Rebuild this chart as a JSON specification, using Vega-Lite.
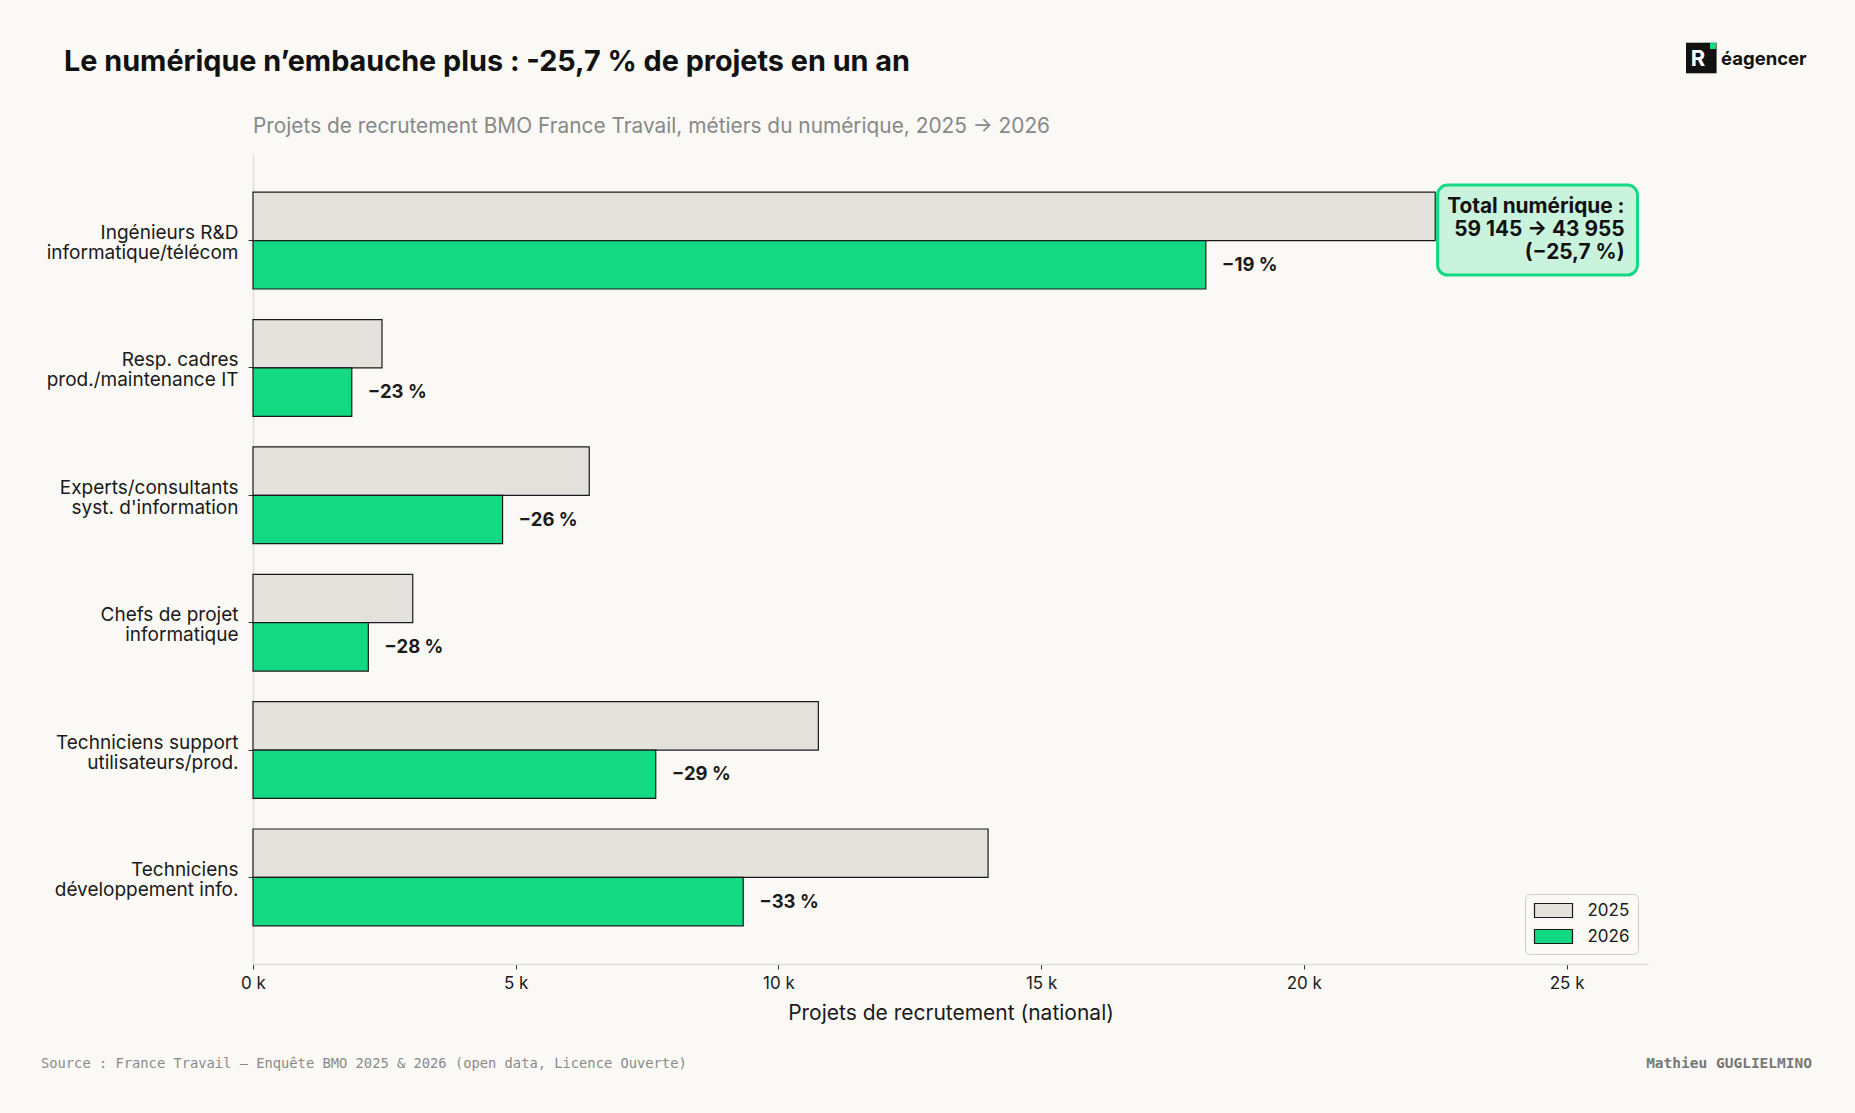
{
  "$schema": "https://vega.github.io/schema/vega-lite/v6.json",
  "width": 1395,
  "height": 810,
  "autosize": {"type": "none"},
  "padding": {"left": 253, "top": 154, "right": 207, "bottom": 149},
  "background": "#faf9f5",
  "config": {
    "view": {"stroke": null},
    "font": "Inter",
    "text": {"font": "Inter", "color": "#1a1a1a"}
  },
  "datasets": {
    "metiers": [
      {"metier": "Ingénieurs R&D|informatique/télécom", "annee": "2025", "valeur": 22500},
      {"metier": "Ingénieurs R&D|informatique/télécom", "annee": "2026", "valeur": 18135, "evolution": "−19 %"},
      {"metier": "Resp. cadres|prod./maintenance IT", "annee": "2025", "valeur": 2455},
      {"metier": "Resp. cadres|prod./maintenance IT", "annee": "2026", "valeur": 1880, "evolution": "−23 %"},
      {"metier": "Experts/consultants|syst. d'information", "annee": "2025", "valeur": 6400},
      {"metier": "Experts/consultants|syst. d'information", "annee": "2026", "valeur": 4750, "evolution": "−26 %"},
      {"metier": "Chefs de projet|informatique", "annee": "2025", "valeur": 3040},
      {"metier": "Chefs de projet|informatique", "annee": "2026", "valeur": 2195, "evolution": "−28 %"},
      {"metier": "Techniciens support|utilisateurs/prod.", "annee": "2025", "valeur": 10760},
      {"metier": "Techniciens support|utilisateurs/prod.", "annee": "2026", "valeur": 7665, "evolution": "−29 %"},
      {"metier": "Techniciens|développement info.", "annee": "2025", "valeur": 13990},
      {"metier": "Techniciens|développement info.", "annee": "2026", "valeur": 9330, "evolution": "−33 %"}
    ]
  },
  "layer": [
    {
      "data": {"name": "metiers"},
      "mark": {"type": "bar", "stroke": "#1a1a1a", "strokeWidth": 1.2},
      "encoding": {
        "y": {
          "field": "metier",
          "type": "nominal",
          "scale": {
            "domain": [
              "Ingénieurs R&D|informatique/télécom",
              "Resp. cadres|prod./maintenance IT",
              "Experts/consultants|syst. d'information",
              "Chefs de projet|informatique",
              "Techniciens support|utilisateurs/prod.",
              "Techniciens|développement info."
            ],
            "paddingInner": 0.24,
            "paddingOuter": 0.3
          },
          "axis": {
            "title": null,
            "labelExpr": "split(datum.value, '|')",
            "labelFontSize": 19,
            "labelColor": "#1a1a1a",
            "labelLineHeight": 20,
            "labelOffset": -7.5,
            "labelPadding": 10,
            "labelLimit": 0,
            "tickSize": 5,
            "tickColor": "#333333",
            "domainColor": "#dddddd",
            "domainWidth": 1.5,
            "grid": false
          }
        },
        "x": {
          "field": "valeur",
          "type": "quantitative",
          "scale": {"domain": [0, 26550], "nice": false},
          "axis": {
            "values": [0, 5000, 10000, 15000, 20000, 25000],
            "labelExpr": "datum.value / 1000 + ' k'",
            "title": "Projets de recrutement (national)",
            "titleFontSize": 21,
            "titleFontWeight": "normal",
            "titleColor": "#1a1a1a",
            "titlePadding": 11,
            "labelFontSize": 17,
            "labelColor": "#1a1a1a",
            "labelPadding": 6,
            "labelFlush": false,
            "tickSize": 5,
            "tickColor": "#333333",
            "domainColor": "#dddddd",
            "domainWidth": 1.5,
            "grid": false
          }
        },
        "yOffset": {
          "field": "annee",
          "type": "nominal",
          "scale": {"domain": ["2025", "2026"], "paddingInner": 0, "paddingOuter": 0}
        },
        "color": {
          "field": "annee",
          "type": "nominal",
          "scale": {"domain": ["2025", "2026"], "range": ["#e4e2dc", "#13d983"]},
          "legend": {
            "title": null,
            "orient": "bottom-right",
            "offset": 10,
            "fillColor": "#faf9f5",
            "strokeColor": "#cccccc",
            "cornerRadius": 5,
            "padding": 8,
            "rowPadding": 7,
            "symbolType": "M-3.167,-1.167L3.167,-1.167L3.167,1.167L-3.167,1.167Z",
            "symbolSize": 144,
            "symbolOffset": 12,
            "symbolStrokeColor": "#1a1a1a",
            "symbolStrokeWidth": 1.2,
            "labelFontSize": 17,
            "labelColor": "#1a1a1a",
            "labelOffset": 25.5
          }
        }
      }
    },
    {
      "data": {"name": "metiers"},
      "transform": [{"filter": "datum.annee == '2026'"}],
      "mark": {"type": "text", "align": "left", "baseline": "middle", "dx": 16, "fontSize": 18.5, "fontWeight": "bold"},
      "encoding": {
        "x": {"field": "valeur", "type": "quantitative"},
        "y": {"field": "metier", "type": "nominal"},
        "yOffset": {"field": "annee", "type": "nominal"},
        "text": {"field": "evolution"}
      }
    },
    {
      "data": {"values": [{"metier": "Ingénieurs R&D|informatique/télécom", "debut": 22545, "fin": 26350}]},
      "mark": {"type": "bar", "height": 90, "yOffset": -10.5, "cornerRadius": 10, "fill": "#c9f3dc", "stroke": "#13d983", "strokeWidth": 3},
      "encoding": {
        "x": {"field": "debut", "type": "quantitative"},
        "x2": {"field": "fin"},
        "y": {"field": "metier", "type": "nominal"}
      }
    },
    {
      "data": {"values": [{"metier": "Ingénieurs R&D|informatique/télécom", "fin": 26350}]},
      "mark": {
        "type": "text",
        "text": ["Total numérique :", "59 145 → 43 955", "(−25,7 %)"],
        "align": "right",
        "baseline": "middle",
        "dx": -13,
        "dy": -34,
        "lineHeight": 23,
        "fontSize": 20.8,
        "fontWeight": "bold",
        "color": "#111111"
      },
      "encoding": {
        "x": {"field": "fin", "type": "quantitative"},
        "y": {"field": "metier", "type": "nominal"}
      }
    },
    {
      "data": {"values": [{}]},
      "mark": {"type": "text", "text": "Le numérique n’embauche plus : -25,7 % de projets en un an", "align": "left", "baseline": "middle", "dx": -189, "dy": -179, "fontSize": 28.8, "fontWeight": "bold", "color": "#111111"},
      "encoding": {
        "x": {"datum": 0},
        "y": {"datum": "Ingénieurs R&D|informatique/télécom"}
      }
    },
    {
      "data": {"values": [{}]},
      "mark": {"type": "text", "text": "Projets de recrutement BMO France Travail, métiers du numérique, 2025 → 2026", "align": "left", "baseline": "middle", "dx": 0, "dy": -114, "fontSize": 20.85, "color": "#888888"},
      "encoding": {
        "x": {"datum": 0},
        "y": {"datum": "Ingénieurs R&D|informatique/télécom"}
      }
    },
    {
      "data": {"values": [{}]},
      "mark": {"type": "point", "shape": "square", "size": 936, "filled": true, "opacity": 1, "color": "#111111", "xOffset": 53.3, "yOffset": -182.6},
      "encoding": {
        "x": {"datum": 26550},
        "y": {"datum": "Ingénieurs R&D|informatique/télécom"}
      }
    },
    {
      "data": {"values": [{}]},
      "mark": {"type": "point", "shape": "square", "size": 36, "filled": true, "opacity": 1, "color": "#13d983", "xOffset": 65, "yOffset": -194.6},
      "encoding": {
        "x": {"datum": 26550},
        "y": {"datum": "Ingénieurs R&D|informatique/télécom"}
      }
    },
    {
      "data": {"values": [{}]},
      "mark": {"type": "text", "text": "R", "align": "center", "baseline": "middle", "dx": 50, "dy": -181.6, "fontSize": 22, "fontWeight": "bold", "color": "#ffffff"},
      "encoding": {
        "x": {"datum": 26550},
        "y": {"datum": "Ingénieurs R&D|informatique/télécom"}
      }
    },
    {
      "data": {"values": [{}]},
      "mark": {"type": "text", "text": "éagencer", "align": "left", "baseline": "middle", "dx": 73, "dy": -181.6, "fontSize": 18.5, "fontWeight": "bold", "color": "#111111"},
      "encoding": {
        "x": {"datum": 26550},
        "y": {"datum": "Ingénieurs R&D|informatique/télécom"}
      }
    },
    {
      "data": {"values": [{}]},
      "mark": {"type": "text", "text": "Source : France Travail — Enquête BMO 2025 & 2026 (open data, Licence Ouverte)", "align": "left", "baseline": "middle", "dx": -212, "dy": 186.6, "fontSize": 13.75, "font": "DejaVu Sans Mono", "color": "#8a8a8a"},
      "encoding": {
        "x": {"datum": 0},
        "y": {"datum": "Techniciens|développement info."}
      }
    },
    {
      "data": {"values": [{}]},
      "mark": {"type": "text", "text": "Mathieu GUGLIELMINO", "align": "right", "baseline": "middle", "dx": 164, "dy": 186.6, "fontSize": 14.5, "fontWeight": "bold", "font": "DejaVu Sans Mono", "color": "#777777"},
      "encoding": {
        "x": {"datum": 26550},
        "y": {"datum": "Techniciens|développement info."}
      }
    }
  ]
}
